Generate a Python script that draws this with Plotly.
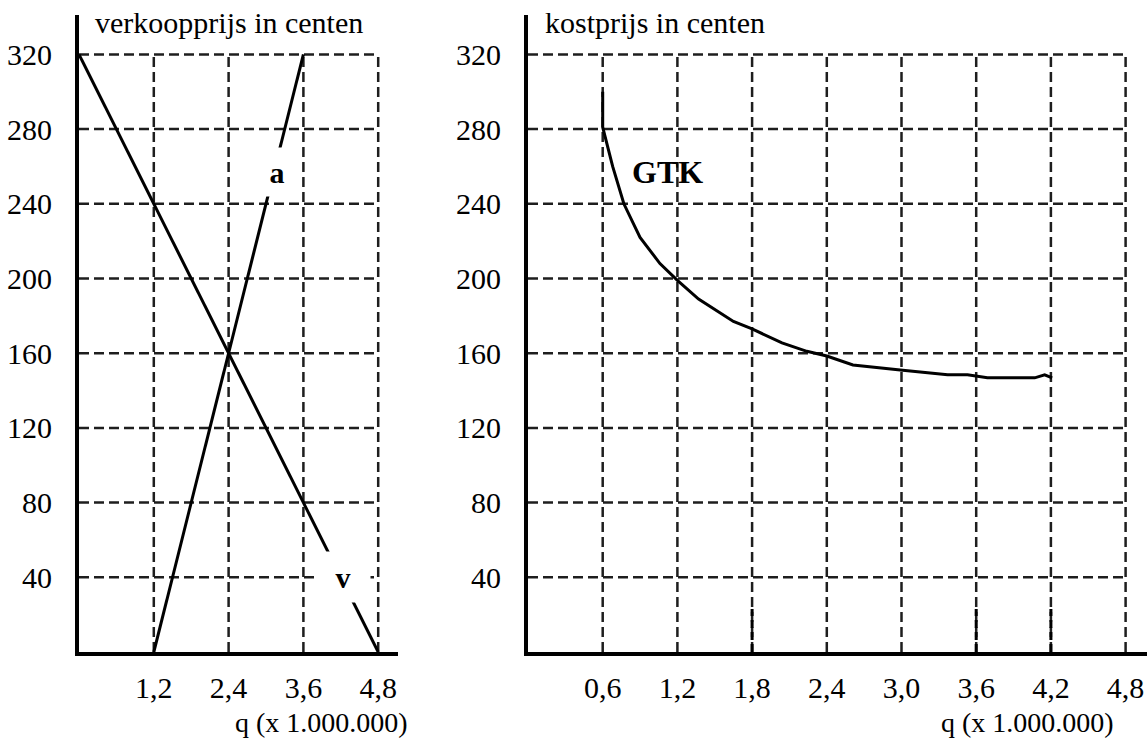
import plotly.graph_objects as go

# ---- data ----
v_q = [0.0, 4.8]
v_p = [320, 0]
a_q = [1.2, 3.6]
a_p = [0, 320]

gtk_q = [0.60, 0.60, 0.68, 0.77, 0.90, 1.06, 1.20, 1.37, 1.65, 1.80, 2.04, 2.24, 2.40,
         2.61, 2.99, 3.37, 3.53, 3.69, 4.07, 4.15, 4.21]
gtk_p = [300, 281, 260, 240, 222, 208, 199, 189, 177, 173, 165.5, 161, 158.5,
         153.7, 151, 148.4, 148.4, 146.8, 146.8, 148.4, 146.8]

left_xticks = [1.2, 2.4, 3.6, 4.8]
left_xlabels = ["1,2", "2,4", "3,6", "4,8"]
right_xticks = [0.6, 1.2, 1.8, 2.4, 3.0, 3.6, 4.2, 4.8]
right_xlabels = ["0,6", "1,2", "1,8", "2,4", "3,0", "3,6", "4,2", "4,8"]
yticks = [40, 80, 120, 160, 200, 240, 280, 320]
drop_q = [1.8, 3.6, 4.2]

W, H = 1147, 740
FONT = "Liberation Serif, Times New Roman, serif"
FS = 30
GRID_COLOR = "#1e1e1e"
GRID_W = 2.5
DASH = "10px,5px"

fig = go.Figure()
fig.add_trace(go.Scatter(x=v_q, y=v_p, mode="lines", line=dict(color="black", width=3),
                         xaxis="x", yaxis="y", showlegend=False, hoverinfo="skip"))
fig.add_trace(go.Scatter(x=a_q, y=a_p, mode="lines", line=dict(color="black", width=3),
                         xaxis="x", yaxis="y", showlegend=False, hoverinfo="skip"))
fig.add_trace(go.Scatter(x=gtk_q, y=gtk_p, mode="lines", line=dict(color="black", width=3),
                         xaxis="x2", yaxis="y2", showlegend=False, hoverinfo="skip"))

shapes = []
# left grid
for xv in left_xticks:
    shapes.append(dict(type="line", xref="x", yref="y", x0=xv, x1=xv, y0=0, y1=320,
                       line=dict(color=GRID_COLOR, width=GRID_W, dash=DASH), layer="below"))
for yv in yticks:
    shapes.append(dict(type="line", xref="x", yref="y", x0=0, x1=4.8, y0=yv, y1=yv,
                       line=dict(color=GRID_COLOR, width=GRID_W, dash=DASH), layer="below"))
# right grid
for xv in right_xticks:
    shapes.append(dict(type="line", xref="x2", yref="y2", x0=xv, x1=xv, y0=0, y1=320,
                       line=dict(color=GRID_COLOR, width=GRID_W, dash=DASH), layer="below"))
for yv in yticks:
    shapes.append(dict(type="line", xref="x2", yref="y2", x0=0, x1=4.8, y0=yv, y1=yv,
                       line=dict(color=GRID_COLOR, width=GRID_W, dash=DASH), layer="below"))
for xv in drop_q:
    shapes.append(dict(type="line", xref="x2", yref="y2", x0=xv, x1=xv, y0=0, y1=23,
                       line=dict(color="black", width=3, dash="8px,4px"), layer="above"))

annotations = [
    dict(x=3.18, y=257, xref="x", yref="y", text="<b>a</b>", showarrow=False,
         font=dict(family=FONT, size=FS, color="black"), bgcolor="white",
         width=40, height=48, borderpad=0),
    dict(x=4.235, y=40, xref="x", yref="y", text="<b>v</b>", showarrow=False,
         font=dict(family=FONT, size=FS, color="black"), bgcolor="white",
         width=54, height=50, borderpad=0),
    dict(x=1.12, y=257, xref="x2", yref="y2", text="<b>GTK</b>", showarrow=False,
         font=dict(family=FONT, size=32, color="black")),
    dict(x=93 / W, y=1 - 22 / H, xref="paper", yref="paper", text="verkoopprijs in centen",
         showarrow=False, xanchor="left", yanchor="middle",
         font=dict(family=FONT, size=FS, color="black")),
    dict(x=543 / W, y=1 - 22 / H, xref="paper", yref="paper", text="kostprijs in centen",
         showarrow=False, xanchor="left", yanchor="middle",
         font=dict(family=FONT, size=FS, color="black")),
    dict(x=410 / W, y=1 - 722 / H, xref="paper", yref="paper", text="q (x 1.000.000)",
         showarrow=False, xanchor="right", yanchor="middle",
         font=dict(family=FONT, size=28, color="black")),
    dict(x=1116 / W, y=1 - 722 / H, xref="paper", yref="paper", text="q (x 1.000.000)",
         showarrow=False, xanchor="right", yanchor="middle",
         font=dict(family=FONT, size=28, color="black")),
]

px_per_q_left = 74.8 / 1.2
px_per_q_right = 74.7 / 0.6
px_per_p = 74.7 / 40
y_bot, y_top = 652, 15
xl0, xl1 = 79, 398
xr0, xr1 = 528, 1147

axis_common = dict(showgrid=False, zeroline=False, showline=True, linecolor="black",
                   linewidth=4, ticks="", tickfont=dict(family=FONT, size=FS, color="black"),
                   fixedrange=True)

fig.update_layout(
    width=W, height=H,
    margin=dict(l=0, r=0, t=0, b=0),
    paper_bgcolor="white", plot_bgcolor="white",
    shapes=shapes, annotations=annotations,
    xaxis=dict(domain=[xl0 / W, xl1 / W], range=[0, (xl1 - xl0) / px_per_q_left],
               tickvals=left_xticks, ticktext=left_xlabels, anchor="y",
               ticklabelstandoff=6, **axis_common),
    yaxis=dict(domain=[1 - y_bot / H, 1 - y_top / H], range=[0, (y_bot - y_top) / px_per_p],
               tickvals=yticks, ticktext=[str(t) for t in yticks], anchor="x",
               ticklabelstandoff=17, **axis_common),
    xaxis2=dict(domain=[xr0 / W, xr1 / W], range=[0, (xr1 - xr0) / px_per_q_right],
                tickvals=right_xticks, ticktext=right_xlabels, anchor="y2",
                ticklabelstandoff=6, **axis_common),
    yaxis2=dict(domain=[1 - y_bot / H, 1 - y_top / H], range=[0, (y_bot - y_top) / px_per_p],
                tickvals=yticks, ticktext=[str(t) for t in yticks], anchor="x2",
                ticklabelstandoff=17, **axis_common),
)

fig.write_html("out.html", config={"displayModeBar": False},
               post_script="document.body.style.margin='0';document.body.style.overflow='hidden';")
